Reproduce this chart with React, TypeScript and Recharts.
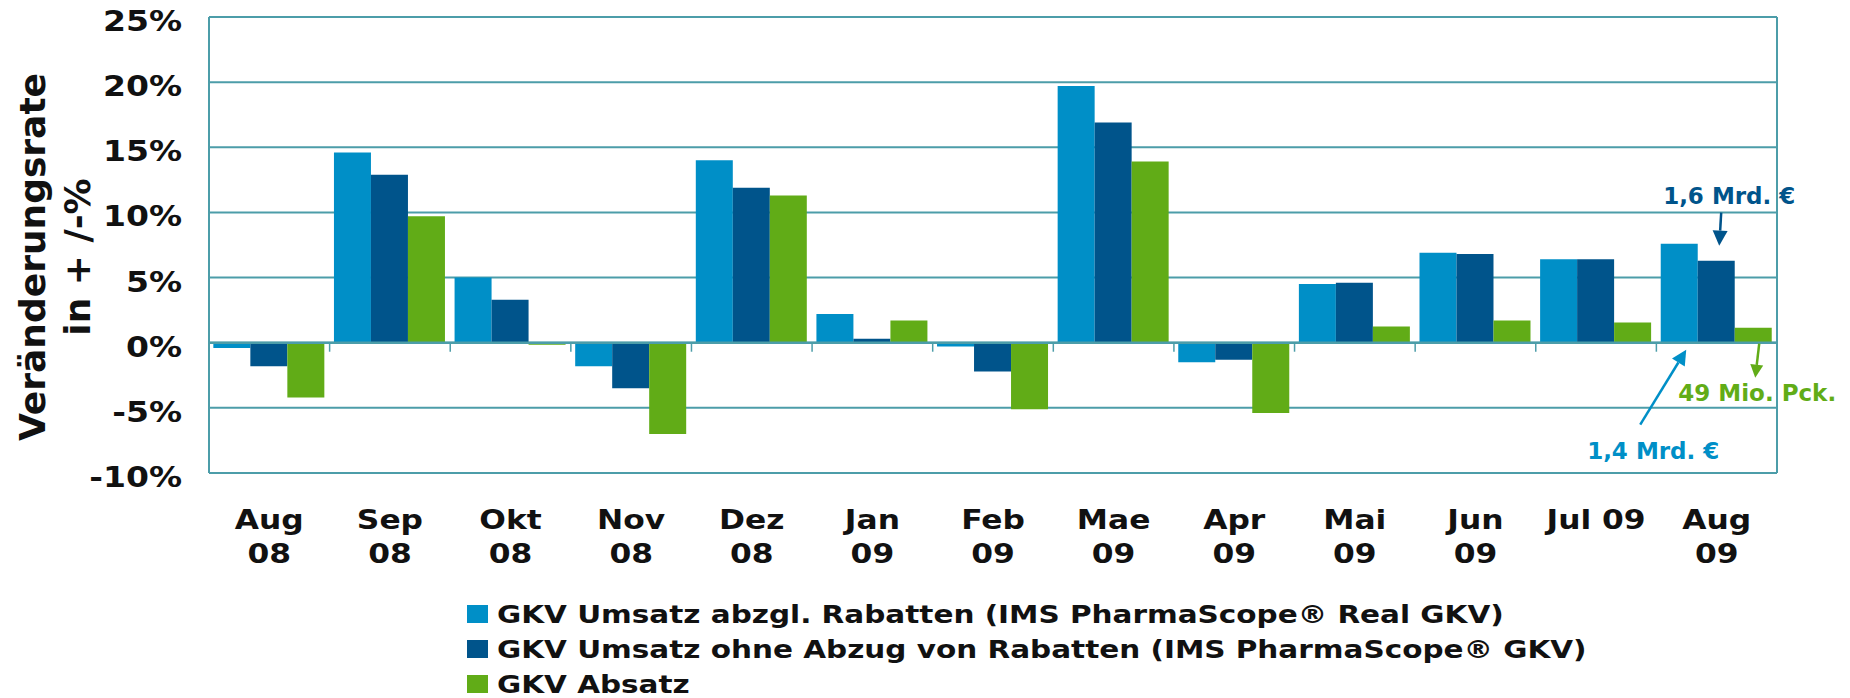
import React from 'react';
import {
  BarChart,
  Bar,
  XAxis,
  YAxis,
  CartesianGrid,
  Legend,
  LabelList,
  ReferenceLine,
} from 'recharts';

// Months of the chart (Aug 08 .. Aug 09)
const months = [
  'Aug 08', 'Sep 08', 'Okt 08', 'Nov 08', 'Dez 08', 'Jan 09', 'Feb 09',
  'Mae 09', 'Apr 09', 'Mai 09', 'Jun 09', 'Jul 09', 'Aug 09',
];
// tick labels, two lines each
const tickTop = ['Aug', 'Sep', 'Okt', 'Nov', 'Dez', 'Jan', 'Feb', 'Mae', 'Apr', 'Mai', 'Jun', 'Jul 09', 'Aug'];
const tickBottom = ['08', '08', '08', '08', '08', '09', '09', '09', '09', '09', '09', '', '09'];

// change rates in %
const umsatzReal = [-0.4, 14.6, 5.0, -1.8, 14.0, 2.2, -0.3, 19.7, -1.5, 4.5, 6.9, 6.4, 7.6];
const umsatzBrutto = [-1.8, 12.9, 3.3, -3.5, 11.9, 0.3, -2.2, 16.9, -1.3, 4.6, 6.8, 6.4, 6.3];
const absatz = [-4.2, 9.7, -0.15, -7.0, 11.3, 1.7, -5.1, 13.9, -5.4, 1.25, 1.7, 1.55, 1.15];

const yTicks = [-10, -5, 0, 5, 10, 15, 20, 25];

const seriesNames = [
  'GKV Umsatz abzgl. Rabatten (IMS PharmaScope® Real GKV)',
  'GKV Umsatz ohne Abzug von Rabatten (IMS PharmaScope® GKV)',
  'GKV Absatz',
];
// notes on the last month
const noteReal = '1,4 Mrd. €';
const noteBrutto = '1,6 Mrd. €';
const noteAbsatz = '49 Mio. Pck.';

const LIGHT = '#008FC7';
const DARK = '#00548B';
const GREEN = '#61AC17';
const seriesColors = [LIGHT, DARK, GREEN];
const TEAL = '#4C9DA9';
const FONT = '"DejaVu Sans", Verdana, sans-serif';

const W = 1850;
const H = 698;

const data = months.map((month, i) => ({
  month,
  real: umsatzReal[i],
  brutto: umsatzBrutto[i],
  absatz: absatz[i],
}));

const last = months.length - 1;

const XTick = (props: any) => {
  const { x, y, payload } = props;
  const i = months.indexOf(payload.value);
  const style = { fontFamily: FONT, fontWeight: 700, fontSize: 27, fill: '#111' };
  return (
    <g transform={`translate(${x},${y})`}>
      <text transform="translate(0,56) scale(1.16,1)" textAnchor="middle" {...style}>
        {tickTop[i]}
      </text>
      <text transform="translate(0,90) scale(1.16,1)" textAnchor="middle" {...style}>
        {tickBottom[i]}
      </text>
    </g>
  );
};

const YTick = (props: any) => {
  const { x, y, payload } = props;
  return (
    <text
      transform={`translate(${x - 27},${y + 14}) scale(1.18,1)`}
      textAnchor="end"
      fontFamily={FONT}
      fontWeight={700}
      fontSize={28}
      fill="#111"
    >
      {`${payload.value}%`}
    </text>
  );
};

const YLabel = (props: any) => {
  const vb = props.viewBox || { x: 0, y: 0, width: 0, height: 0 };
  const cy = vb.y + vb.height / 2 + 12;
  const style = { fontFamily: FONT, fontWeight: 700, fontSize: 36, fill: '#111' };
  return (
    <g>
      <text transform={`translate(45,${cy}) rotate(-90)`} textAnchor="middle" {...style}>
        Veränderungsrate
      </text>
      <text transform={`translate(90,${cy}) rotate(-90)`} textAnchor="middle" {...style}>
        in + /-%
      </text>
    </g>
  );
};

const box = (p: any) => {
  const vb = p.viewBox && p.viewBox.width !== undefined ? p.viewBox : p;
  return { x: Number(vb.x), y: Number(vb.y), w: Number(vb.width), h: Number(vb.height) };
};

const Arrow = ({ x1, y1, x2, y2, color, head }: any) => {
  const a = Math.atan2(y2 - y1, x2 - x1);
  const bx = x2 - head * Math.cos(a);
  const by = y2 - head * Math.sin(a);
  const nx = -Math.sin(a) * head * 0.5;
  const ny = Math.cos(a) * head * 0.5;
  return (
    <g>
      <line x1={x1} y1={y1} x2={bx} y2={by} stroke={color} strokeWidth={2.5} />
      <polygon points={`${x2},${y2} ${bx + nx},${by + ny} ${bx - nx},${by - ny}`} fill={color} />
    </g>
  );
};

const noteStyle = { fontFamily: FONT, fontWeight: 700, fontSize: 23 };

const RealNote = (props: any) => {
  if (props.index !== last) return null;
  const b = box(props);
  const cx = b.x + b.w / 2;
  const zero = b.y + b.h;
  return (
    <g>
      <Arrow x1={cx - 39} y1={zero + 82} x2={cx + 7} y2={zero + 7} color={LIGHT} head={15} />
      <text x={cx - 26} y={zero + 116} textAnchor="middle" fill={LIGHT} {...noteStyle}>
        {noteReal}
      </text>
    </g>
  );
};

const BruttoNote = (props: any) => {
  if (props.index !== last) return null;
  const b = box(props);
  const cx = b.x + b.w / 2;
  return (
    <g>
      <Arrow x1={cx + 5} y1={b.y - 48} x2={cx + 3} y2={b.y - 15} color={DARK} head={15} />
      <text x={cx + 13} y={b.y - 57} textAnchor="middle" fill={DARK} {...noteStyle}>
        {noteBrutto}
      </text>
    </g>
  );
};

const AbsatzNote = (props: any) => {
  if (props.index !== last) return null;
  const b = box(props);
  const cx = b.x + b.w / 2;
  const zero = b.y + b.h;
  return (
    <g>
      <Arrow x1={cx + 6} y1={zero + 1} x2={cx + 2} y2={zero + 35} color={GREEN} head={13} />
      <text x={cx + 4} y={zero + 58} textAnchor="middle" fill={GREEN} {...noteStyle}>
        {noteAbsatz}
      </text>
    </g>
  );
};

// legend keeps the order of the series
const renderLegend = () => (
  <svg width={W} height={130} style={{ display: 'block' }}>
    {seriesNames.map((name, i) => (
      <g key={name}>
        <rect x={467} y={37 + i * 35} width={21} height={18} fill={seriesColors[i]} />
        <text
          transform={`translate(497,${55 + i * 35}) scale(1.18,1)`}
          fontFamily={FONT}
          fontWeight={700}
          fontSize={25}
          fill="#111"
        >
          {name}
        </text>
      </g>
    ))}
  </svg>
);

const ZeroLine = (props: any) => {
  const { x1, x2, y1 } = props;
  if (x1 === undefined) return null;
  const step = (x2 - x1) / months.length;
  return (
    <g>
      <line x1={x1} x2={x2} y1={y1} y2={y1} stroke={TEAL} strokeWidth={2.5} />
      {months.map((m, i) => (
        <line
          key={m}
          x1={x1 + i * step}
          x2={x1 + i * step}
          y1={y1}
          y2={y1 + 9}
          stroke={TEAL}
          strokeWidth={1.5}
        />
      ))}
    </g>
  );
};

export default function App() {
  return (
    <div style={{ width: W, height: H, margin: '-8px 0 0 -8px', background: '#fff' }}>
      <BarChart
        width={W}
        height={H}
        data={data}
        margin={{ top: 17, right: 73, left: 0, bottom: 0 }}
        barCategoryGap="3.6%"
        barGap={0}
      >
        <CartesianGrid
          stroke={TEAL}
          strokeWidth={2}
          verticalCoordinatesGenerator={({ offset }: any) => [offset.left, offset.left + offset.width]}
        />
        <XAxis
          dataKey="month"
          interval={0}
          axisLine={false}
          tickLine={false}
          tickSize={0}
          tickMargin={0}
          height={95}
          tick={<XTick />}
        />
        <YAxis
          domain={[-10, 25]}
          ticks={yTicks}
          interval={0}
          width={209}
          axisLine={false}
          tickLine={false}
          tickSize={0}
          tickMargin={0}
          tick={<YTick />}
          label={{ content: <YLabel /> }}
        />
        <Legend
          verticalAlign="bottom"
          content={renderLegend}
          wrapperStyle={{ left: 0, bottom: 0, width: W }}
        />
        <Bar dataKey="real" name={seriesNames[0]} fill={LIGHT} isAnimationActive={false}>
          <LabelList dataKey="real" content={<RealNote />} />
        </Bar>
        <Bar dataKey="brutto" name={seriesNames[1]} fill={DARK} isAnimationActive={false}>
          <LabelList dataKey="brutto" content={<BruttoNote />} />
        </Bar>
        <Bar dataKey="absatz" name={seriesNames[2]} fill={GREEN} isAnimationActive={false}>
          <LabelList dataKey="absatz" content={<AbsatzNote />} />
        </Bar>
        <ReferenceLine y={0} shape={<ZeroLine />} />
      </BarChart>
    </div>
  );
}
